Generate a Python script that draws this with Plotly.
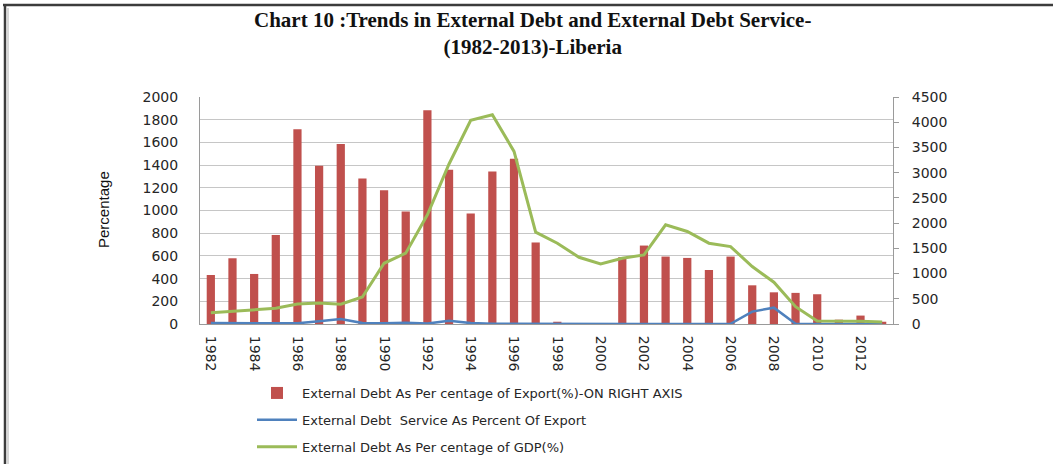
import plotly.graph_objects as go

# Data
years = list(range(1982, 2014))

# External debt as % of exports (right axis)
debt_export = [972, 1303, 992, 1766, 3859, 3137, 3566, 2885, 2653, 2230,
               4235, 3058, 2192, 3024, 3276, 1616, 45, 0, 0, 1323,
               1555, 1337, 1310, 1071, 1337, 767, 628, 617, 590, 86,
               167, 45]

# External debt service as % of exports (left axis)
debt_service = [8, 8, 8, 8, 6, 25, 44, 8, 6, 12,
                4, 28, 8, 2, 1, 1, 1, 4, 1, 1,
                1, 1, 1, 1, 2, 109, 144, 2, 1, 1,
                1, 1]

# External debt as % of GDP (left axis)
debt_gdp = [100, 112, 121, 138, 176, 185, 174, 238, 535, 624,
            962, 1410, 1794, 1844, 1521, 809, 712, 588, 529, 579,
            609, 874, 815, 712, 682, 506, 368, 153, 26, 26,
            24, 18]

x_ticks = list(range(1982, 2013, 2))

COLORS = {
    'bar': '#C0504D',
    'blue': '#4F81BD',
    'green': '#9BBB59',
    'grid': '#C6C6C6',
    'axis': '#9A9A9A',
    'text': '#262626',
}

W, H = 1053, 464
L, R, T, B = 200, 893, 97, 324


def px(x):
    return (x - L) / (R - L)


def py(y):
    return (B - y) / (B - T)


TICK_FONT = dict(family='DejaVu Sans, Verdana, sans-serif', size=14, color=COLORS['text'])

fig = go.Figure()

fig.add_trace(go.Bar(
    x=years, y=debt_export,
    width=0.38,
    marker=dict(color=COLORS['bar'], line=dict(width=0)),
    name='External Debt As Per centage of Export(%)-ON RIGHT AXIS',
    legendgroup='a',
    yaxis='y',
))

fig.add_trace(go.Scatter(
    x=years, y=debt_service,
    mode='lines',
    line=dict(color=COLORS['blue'], width=2.5),
    name='External Debt  Service As Percent Of Export',
    legendgroup='b',
    yaxis='y2',
))

fig.add_trace(go.Scatter(
    x=years, y=debt_gdp,
    mode='lines',
    line=dict(color=COLORS['green'], width=3),
    name='External Debt As Per centage of GDP(%)',
    legendgroup='c',
    yaxis='y2',
))

# frame lines (top and left) like the original
frame = []
for x0, y0, x1, y1, c, w in [
    (3, 5, W + 5, 5, '#3C3C3C', 2.5),
    (5, 5, 5, H + 5, '#3C3C3C', 2.5),
    (8, 8, 8, H + 5, '#C8C8C8', 1.5),
]:
    frame.append(dict(type='line', xref='paper', yref='paper',
                      x0=px(x0), y0=py(y0), x1=px(x1), y1=py(y1),
                      line=dict(color=c, width=w)))

fig.update_layout(
    width=W, height=H,
    margin=dict(l=L, r=W - R, t=T, b=H - B, pad=0, autoexpand=False),
    paper_bgcolor='white',
    plot_bgcolor='white',
    showlegend=True,
    xaxis=dict(
        range=[1981.5, 2013.5],
        tickvals=x_ticks,
        tickangle=90,
        tickfont=TICK_FONT,
        showgrid=False,
        showline=True, linecolor=COLORS['axis'], linewidth=1,
        ticks='outside', ticklen=8, tickcolor='rgba(0,0,0,0)',
        zeroline=False, automargin=False,
    ),
    yaxis=dict(
        side='right',
        range=[0, 4500], dtick=500,
        tickfont=TICK_FONT,
        showgrid=False,
        showline=True, linecolor=COLORS['axis'], linewidth=1,
        ticks='outside', ticklen=5, tickcolor=COLORS['axis'],
        ticklabelstandoff=10,
        zeroline=False, automargin=False,
    ),
    yaxis2=dict(
        overlaying='y', side='left',
        range=[0, 2000], dtick=200,
        tickfont=TICK_FONT,
        showgrid=True, gridcolor=COLORS['grid'], gridwidth=1,
        showline=True, linecolor=COLORS['axis'], linewidth=1,
        ticks='', ticklabelstandoff=18,
        zeroline=False, automargin=False,
    ),
    legend=dict(
        x=px(252), y=py(378), xanchor='left', yanchor='top',
        font=dict(family='DejaVu Sans, Verdana, sans-serif', size=13, color=COLORS['text']),
        traceorder='grouped', tracegroupgap=7,
        itemwidth=40,
        bgcolor='rgba(0,0,0,0)',
    ),
    annotations=[
        dict(
            text='<b>Chart 10 :Trends in External Debt and External Debt Service-<br>(1982-2013)-Liberia</b>',
            xref='paper', yref='paper',
            x=px(532), y=py(33), xanchor='center', yanchor='middle',
            showarrow=False,
            font=dict(family='Liberation Serif, Times New Roman, serif', size=21, color='#111111'),
        ),
        dict(
            text='Percentage', xref='paper', yref='paper',
            x=px(103), y=py(210), xanchor='center', yanchor='middle',
            textangle=-90, showarrow=False,
            font=dict(family='Liberation Sans Narrow, Arial Narrow, sans-serif', size=15, color='#111111'),
        ),
    ],
    shapes=frame,
    bargap=0.6,
)

fig.write_html('out.html', config={'displayModeBar': False},
               post_script="document.body.style.margin='0';")
